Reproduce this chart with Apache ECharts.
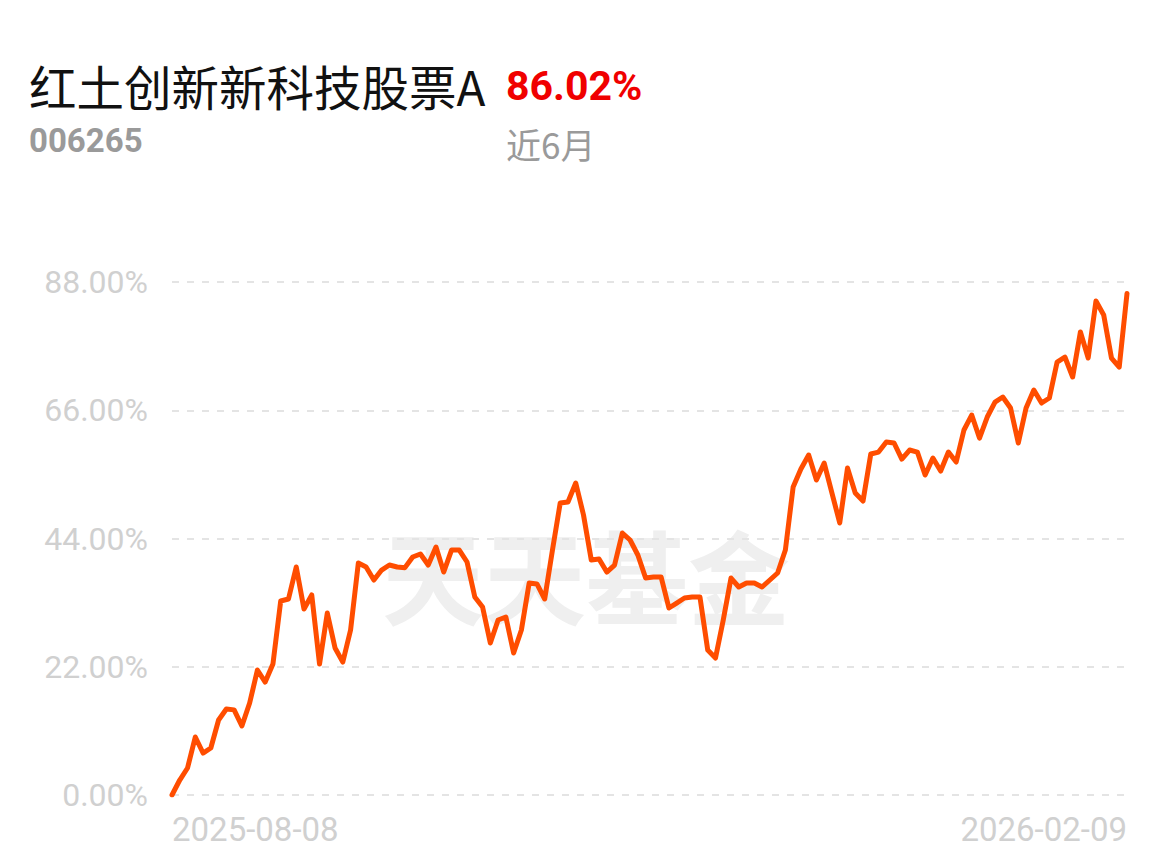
<!DOCTYPE html>
<html>
<head>
<meta charset="utf-8">
<script src="https://cdn.jsdelivr.net/npm/echarts@6/dist/echarts.min.js"></script>
<style>
html,body{margin:0;padding:0;background:#fff;}
#chart{width:1174px;height:868px;}
</style>
</head>
<body>
<div id="chart"></div>
<script>
const fundName = '红土创新新科技股票A';
const fundCode = '006265';
const periodReturn = '86.02%';
const periodLabel = '近6月';
const watermark = '天天基金';

const yTicks = [0, 22, 44, 66, 88];

const dates = [
'2025-08-08','2025-08-11','2025-08-12','2025-08-13','2025-08-14','2025-08-15','2025-08-18','2025-08-19','2025-08-20','2025-08-21','2025-08-22','2025-08-25','2025-08-26','2025-08-27','2025-08-28','2025-08-29',
'2025-09-01','2025-09-02','2025-09-03','2025-09-04','2025-09-05','2025-09-08','2025-09-09','2025-09-10','2025-09-11','2025-09-12','2025-09-15','2025-09-16','2025-09-17','2025-09-18','2025-09-19','2025-09-22','2025-09-23','2025-09-24','2025-09-25','2025-09-26','2025-09-29','2025-09-30',
'2025-10-09','2025-10-10','2025-10-13','2025-10-14','2025-10-15','2025-10-16','2025-10-17','2025-10-20','2025-10-21','2025-10-22','2025-10-23','2025-10-24','2025-10-27','2025-10-28','2025-10-29','2025-10-30','2025-10-31',
'2025-11-03','2025-11-04','2025-11-05','2025-11-06','2025-11-07','2025-11-10','2025-11-11','2025-11-12','2025-11-13','2025-11-14','2025-11-17','2025-11-18','2025-11-19','2025-11-20','2025-11-21','2025-11-24','2025-11-25','2025-11-26','2025-11-27','2025-11-28',
'2025-12-01','2025-12-02','2025-12-03','2025-12-04','2025-12-05','2025-12-08','2025-12-09','2025-12-10','2025-12-11','2025-12-12','2025-12-15','2025-12-16','2025-12-17','2025-12-18','2025-12-19','2025-12-22','2025-12-23','2025-12-24','2025-12-25','2025-12-26','2025-12-29','2025-12-30','2025-12-31',
'2026-01-05','2026-01-06','2026-01-07','2026-01-08','2026-01-09','2026-01-12','2026-01-13','2026-01-14','2026-01-15','2026-01-16','2026-01-19','2026-01-20','2026-01-21','2026-01-22','2026-01-23','2026-01-26','2026-01-27','2026-01-28','2026-01-29','2026-01-30',
'2026-02-02','2026-02-03','2026-02-04','2026-02-05','2026-02-06','2026-02-09'
];

const returns = [
0.00, 2.57, 4.63, 9.95, 7.20, 8.06, 12.86, 14.75, 14.60, 11.84,
15.78, 21.44, 19.38, 22.47, 33.28, 33.62, 39.11, 31.90, 34.31, 22.47,
31.22, 25.21, 22.81, 28.30, 39.79, 39.11, 36.88, 38.59, 39.45, 39.11,
39.00, 40.82, 41.34, 39.45, 42.54, 38.25, 42.02, 42.02, 39.97, 33.96,
32.25, 26.07, 30.02, 30.53, 24.36, 28.30, 36.36, 36.20, 33.62, 42.02,
50.09, 50.26, 53.52, 48.03, 40.31, 40.48, 38.25, 39.45, 44.94, 43.74,
41.17, 37.22, 37.39, 37.39, 32.08, 32.93, 33.79, 33.96, 33.96, 24.87,
23.50, 30.02, 37.22, 35.68, 36.36, 36.36, 35.68, 36.88, 38.08, 42.02,
52.83, 55.92, 58.32, 54.03, 56.95, 51.80, 46.66, 56.09, 51.80, 50.43,
58.49, 58.83, 60.55, 60.38, 57.63, 59.18, 58.83, 54.89, 57.80, 55.57,
58.83, 57.12, 62.61, 65.18, 61.23, 64.84, 67.41, 68.27, 66.38, 60.38,
66.38, 69.47, 67.24, 68.10, 74.27, 75.13, 71.70, 79.42, 74.96, 84.73,
82.33, 74.96, 73.41, 86.02
];

const chart = echarts.init(document.getElementById('chart'), null, {renderer: 'svg'});
const lastIdx = dates.length - 1;

chart.setOption({
  backgroundColor: '#ffffff',
  animation: false,
  grid: {left: 172, right: 47, top: 282, bottom: 73, containLabel: false},
  graphic: [
    {type: 'text', left: 382, top: 522, z: 0, silent: true,
     style: {text: watermark, font: 'bold 102px "Noto Sans CJK SC"', fill: '#efefef'}},
    {type: 'text', x: 29, y: 85, style: {text: fundName, font: '47.5px "Noto Sans CJK SC"', fill: '#111111', textVerticalAlign: 'middle'}},
    {type: 'text', x: 506, y: 86, style: {text: periodReturn, font: 'bold 41px Roboto', fill: '#f00000', textVerticalAlign: 'middle'}},
    {type: 'text', x: 29, y: 140, style: {text: fundCode, font: 'bold 33px Roboto', fill: '#9a9a9a', textVerticalAlign: 'middle'}},
    {type: 'text', x: 506, y: 143, style: {text: periodLabel, font: '35px "Noto Sans CJK SC"', fill: '#9a9a9a', textVerticalAlign: 'middle'}}
  ],
  xAxis: {
    type: 'category',
    data: dates,
    boundaryGap: false,
    axisLine: {show: false},
    axisTick: {show: false},
    splitLine: {show: false},
    axisLabel: {
      interval: function (i) { return i === 0 || i === lastIdx; },
      showMinLabel: true,
      showMaxLabel: true,
      alignMinLabel: 'left',
      alignMaxLabel: 'right',
      margin: 18,
      color: '#d0d0d0',
      fontSize: 33,
      fontFamily: 'Roboto'
    }
  },
  yAxis: {
    type: 'value',
    min: yTicks[0],
    max: yTicks[yTicks.length - 1],
    interval: yTicks[1] - yTicks[0],
    axisLine: {show: false},
    axisTick: {show: false},
    axisLabel: {
      margin: 24,
      color: '#d0d0d0',
      fontSize: 32,
      fontFamily: 'Roboto',
      formatter: function (v) { return v.toFixed(2) + '%'; }
    },
    splitLine: {show: true, lineStyle: {color: '#e4e4e4', width: 2, type: [7, 8]}}
  },
  series: [{
    type: 'line',
    data: returns,
    symbol: 'none',
    smooth: false,
    z: 5,
    lineStyle: {color: '#ff4d00', width: 5, join: 'round', cap: 'round'}
  }]
});
</script>
</body>
</html>
